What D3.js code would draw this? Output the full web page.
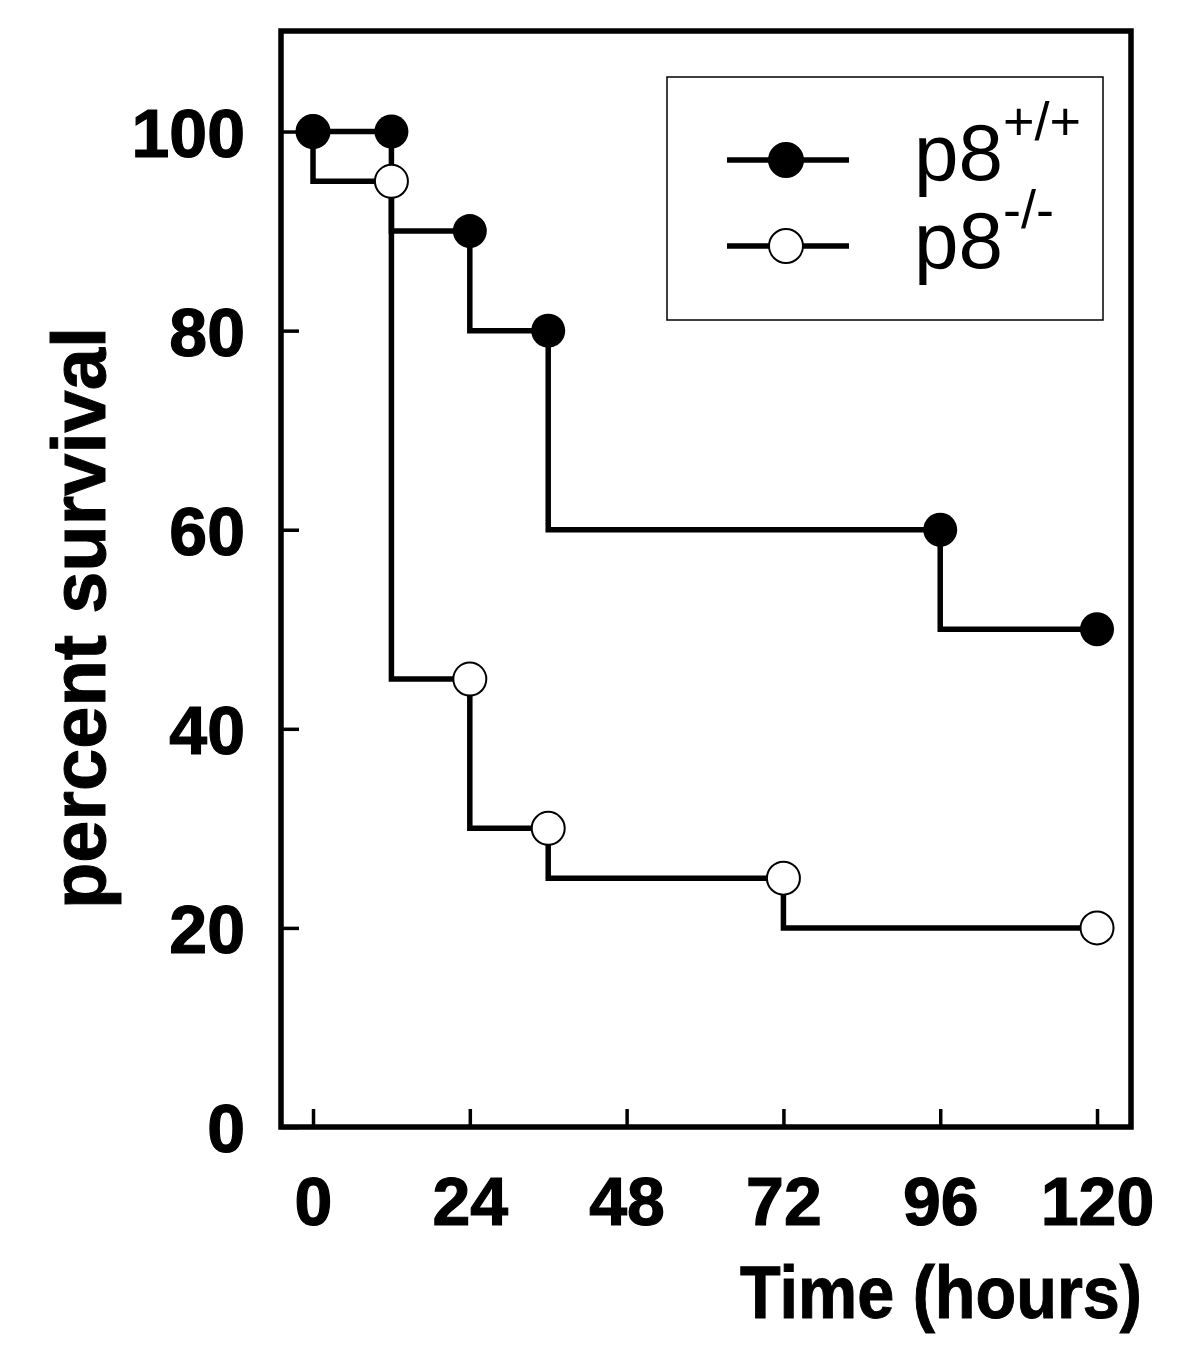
<!DOCTYPE html>
<html>
<head>
  <meta charset="utf-8">
  <title>percent survival</title>
  <script src="https://d3js.org/d3.v7.min.js"></script>
  <style>
    body { margin: 0; background: #fff; }
    text { font-family: "Liberation Sans", Arial, sans-serif; fill: #000; }
  </style>
</head>
<body>
  <script>
    // data
    var times = [0, 12, 24, 36, 96, 120];
    var wildType = [100, 100, 90, 80, 60, 50];        // p8 +/+
    var koTimes = [0, 12, 24, 36, 72, 120];
    var knockOut = [100, 95, 45, 30, 25, 20];         // p8 -/-
    var xTicks = [0, 24, 48, 72, 96, 120];
    var yTicks = [0, 20, 40, 60, 80, 100];

    var width = 1195, height = 1348;
    var plotL = 281, plotR = 1131, plotT = 31, plotB = 1127;

    var svg = d3.select('body').append('svg')
      .attr('width', width)
      .attr('height', height);

    var x = d3.scaleLinear().domain([-4.9, 125.2]).range([plotL, plotR]);
    var y = d3.scaleLinear().domain([0, 110.1]).range([plotB, plotT]);

    // frame
    svg.append('rect')
      .attr('x', plotL).attr('y', plotT)
      .attr('width', plotR - plotL).attr('height', plotB - plotT)
      .attr('fill', 'none').attr('stroke', '#000').attr('stroke-width', 5.5);

    // axes (ticks point inward)
    var xAxis = d3.axisBottom(x).tickValues(xTicks).tickSizeInner(-18).tickSizeOuter(0).tickPadding(50);
    var gx = svg.append('g').attr('transform', 'translate(0,' + plotB + ')').call(xAxis);
    var yAxis = d3.axisLeft(y).tickValues(yTicks).tickSizeInner(-18).tickSizeOuter(0).tickPadding(36);
    var gy = svg.append('g').attr('transform', 'translate(' + plotL + ',0)').call(yAxis);

    [gx, gy].forEach(function(g) {
      g.select('.domain').remove();
      g.selectAll('.tick line').attr('stroke', '#000').attr('stroke-width', 3.5);
      g.selectAll('.tick text')
        .style('font-family', '"Liberation Sans", Arial, sans-serif')
        .style('font-weight', 'bold')
        .style('font-size', '68px')
        .attr('stroke', '#000').attr('stroke-width', 1.2);
    });
    gx.selectAll('.tick text').attr('dy', null).attr('y', 98);
    gy.selectAll('.tick text').attr('dy', '0.36em').attr('x', -36);

    // axis titles
    svg.append('text')
      .attr('x', 740).attr('y', 1318)
      .attr('textLength', 402).attr('lengthAdjust', 'spacingAndGlyphs')
      .attr('stroke', '#000').attr('stroke-width', 1)
      .style('font-size', '74px').style('font-weight', 'bold')
      .text('Time (hours)');

    svg.append('text')
      .attr('transform', 'translate(105,618) rotate(-90)')
      .attr('text-anchor', 'middle')
      .attr('textLength', 582).attr('lengthAdjust', 'spacingAndGlyphs')
      .attr('stroke', '#000').attr('stroke-width', 1)
      .style('font-size', '76px').style('font-weight', 'bold')
      .text('percent survival');

    // step lines
    var line = d3.line()
      .x(function(d) { return x(d[0]); })
      .y(function(d) { return y(d[1]); })
      .curve(d3.curveStepBefore);

    var wtData = times.map(function(t, i) { return [t, wildType[i]]; });
    var koData = koTimes.map(function(t, i) { return [t, knockOut[i]]; });

    svg.append('path').attr('d', line(wtData))
      .attr('fill', 'none').attr('stroke', '#000').attr('stroke-width', 5.5);
    svg.append('path').attr('d', line(koData))
      .attr('fill', 'none').attr('stroke', '#000').attr('stroke-width', 5.5);

    svg.selectAll('.ko').data(koData).enter().append('circle')
      .attr('class', 'ko')
      .attr('cx', function(d) { return x(d[0]); })
      .attr('cy', function(d) { return y(d[1]); })
      .attr('r', 16.5)
      .attr('fill', '#fff').attr('stroke', '#000').attr('stroke-width', 2);

    svg.selectAll('.wt').data(wtData).enter().append('circle')
      .attr('class', 'wt')
      .attr('cx', function(d) { return x(d[0]); })
      .attr('cy', function(d) { return y(d[1]); })
      .attr('r', 17)
      .attr('fill', '#000');

    // legend
    var lg = svg.append('g');
    lg.append('rect')
      .attr('x', 667).attr('y', 77).attr('width', 436).attr('height', 243)
      .attr('fill', 'none').attr('stroke', '#000').attr('stroke-width', 1.5);

    var entries = [
      { y: 160, fill: '#000', sup: '+/+', base: 180 },
      { y: 246, fill: '#fff', sup: '-/-', base: 268 }
    ];
    entries.forEach(function(e) {
      lg.append('line')
        .attr('x1', 727).attr('x2', 849).attr('y1', e.y).attr('y2', e.y)
        .attr('stroke', '#000').attr('stroke-width', 5.5);
      lg.append('circle')
        .attr('cx', 786).attr('cy', e.y).attr('r', 17)
        .attr('fill', e.fill).attr('stroke', '#000').attr('stroke-width', 2);
      var t = lg.append('text')
        .attr('x', 914).attr('y', e.base)
        .style('font-size', '80px');
      t.append('tspan').text('p8');
      t.append('tspan').attr('dy', -40).style('font-size', '54px').text(e.sup);
    });
  </script>
</body>
</html>
